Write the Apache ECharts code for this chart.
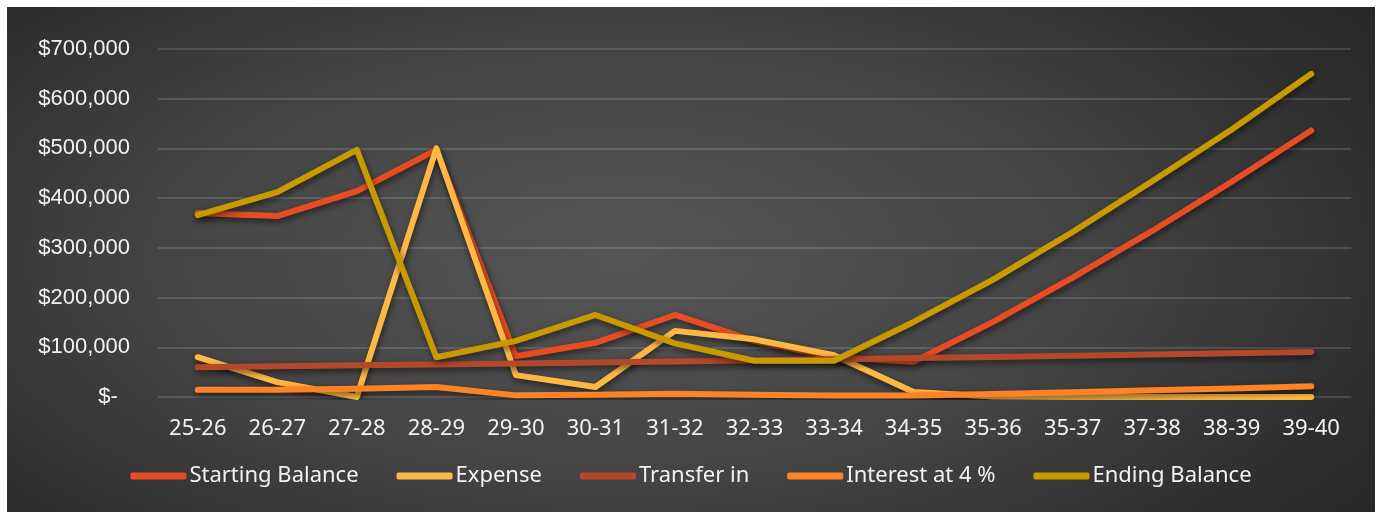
<!DOCTYPE html>
<html>
<head>
<meta charset="utf-8">
<script src="https://cdn.jsdelivr.net/npm/echarts@6/dist/echarts.min.js"></script>
<style>
  html, body { margin: 0; padding: 0; background: #ffffff; }
  #chart {
    position: absolute;
    left: 7px;
    top: 7px;
    width: 1368px;
    height: 505px;
    background: radial-gradient(ellipse 75% 95% at 45% 50%, #565656 0%, #444444 45%, #2c2c2c 80%, #232323 100%);
  }
</style>
</head>
<body>
<div id="chart"></div>
<script>
  // fiscal years
  var years = ['25-26', '26-27', '27-28', '28-29', '29-30', '30-31', '31-32', '32-33',
    '33-34', '34-35', '35-36', '35-37', '37-38', '38-39', '39-40'];

  var startingBalance = [370000, 364000, 414000, 497000, 82000, 109000, 165000, 113000,
    80000, 71000, 151000, 240000, 334000, 433000, 536000];
  var expense = [80000, 30000, 0, 500000, 44000, 20000, 133000, 116000,
    84000, 10000, 1000, 0, 0, 0, 0];
  var transferIn = [60000, 61800, 63700, 65600, 67500, 69600, 71600, 73800,
    76000, 78300, 80600, 83000, 85500, 88100, 90700];
  var interest = [14800, 14600, 16600, 19900, 3300, 4400, 6600, 4500,
    3200, 2800, 6000, 9600, 13400, 17300, 21400];
  var endingBalance = [366000, 412000, 497000, 80000, 113000, 165000, 108000, 73000,
    73000, 151000, 236000, 332000, 434000, 538000, 650000];

  var seriesNames = ['Starting Balance', 'Expense', 'Transfer in', 'Interest at 4 %', 'Ending Balance'];
  var seriesData = [startingBalance, expense, transferIn, interest, endingBalance];
  var colors = ['#E84C22', '#FFB843', '#B5482A', '#FF8225', '#C99A00'];

  function money(v) {
    if (v === 0) return '$-  ';
    return '$' + v.toLocaleString('en-US');
  }

  var chart = echarts.init(document.getElementById('chart'));

  chart.setOption({
    animation: false,
    backgroundColor: 'transparent',
    color: colors,
    grid: {
      left: 151,
      right: 24,
      top: 42,
      bottom: 115
    },
    legend: {
      data: seriesNames,
      left: 'center',
      top: 453,
      icon: 'roundRect',
      itemWidth: 56,
      itemHeight: 7,
      itemGap: 38,
      textStyle: {
        color: '#f2f2f2',
        fontSize: 22,
        fontFamily: 'Noto Sans',
        padding: [0, 0, 0, -2]
      }
    },
    xAxis: {
      type: 'category',
      data: years,
      boundaryGap: true,
      axisLine: { show: false },
      axisTick: { show: false },
      axisLabel: {
        color: '#f2f2f2',
        fontSize: 22,
        fontFamily: 'Noto Sans',
        margin: 21
      }
    },
    yAxis: {
      type: 'value',
      min: 0,
      max: 700000,
      interval: 100000,
      axisLine: { show: false },
      axisTick: { show: false },
      splitLine: {
        lineStyle: { color: 'rgba(255,255,255,0.13)', width: 2 }
      },
      axisLabel: {
        color: '#f2f2f2',
        fontSize: 22,
        fontFamily: 'Liberation Sans',
        margin: 28,
        formatter: money
      }
    },
    series: seriesNames.map(function (name, i) {
      return {
        name: name,
        type: 'line',
        data: seriesData[i],
        symbol: 'none',
        lineStyle: {
          width: 6,
          cap: 'round',
          join: 'round',
          shadowColor: 'rgba(0,0,0,0.55)',
          shadowBlur: 6,
          shadowOffsetX: 1,
          shadowOffsetY: 3
        }
      };
    })
  });
</script>
</body>
</html>
